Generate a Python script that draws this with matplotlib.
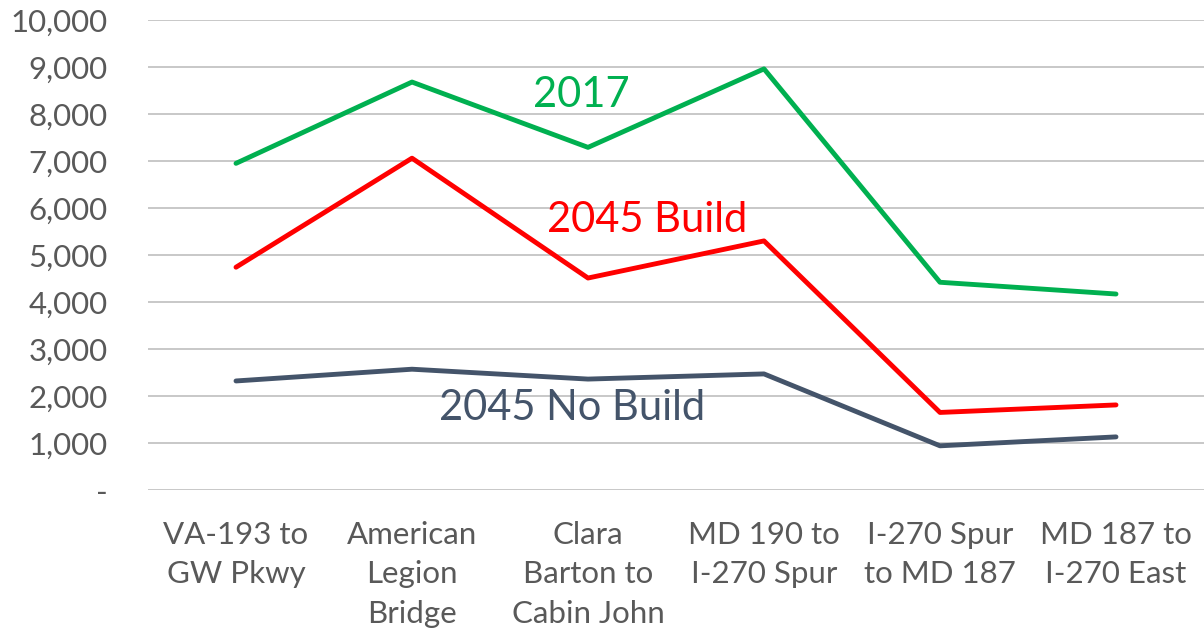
import matplotlib
matplotlib.use("Agg")
import matplotlib.pyplot as plt
from matplotlib.ticker import FuncFormatter

plt.rcParams['font.family'] = ['Lato', 'DejaVu Sans']

categories = ["VA-193 to\nGW Pkwy", "American\nLegion\nBridge", "Clara\nBarton to\nCabin John",
              "MD 190 to\nI-270 Spur", "I-270 Spur\nto MD 187", "MD 187 to\nI-270 East"]
v2017 = [6950, 8680, 7290, 8960, 4420, 4170]
v2045_build = [4740, 7060, 4510, 5300, 1650, 1810]
v2045_nobuild = [2320, 2570, 2360, 2470, 940, 1130]

W, H = 1204, 631
fig = plt.figure(figsize=(W/100, H/100), dpi=100)
ax = fig.add_axes([148/W, 1-490/H, (1204-148)/W, 470/H])

x = list(range(len(categories)))
ax.plot(x, v2017, color="#00B050", lw=3.5, solid_capstyle='round')
ax.plot(x, v2045_build, color="#FF0000", lw=3.5, solid_capstyle='round')
ax.plot(x, v2045_nobuild, color="#44546A", lw=3.5, solid_capstyle='round')

ax.set_xlim(-0.5, 5.5)
ax.set_ylim(0, 10000)
ax.set_yticks(range(0, 10001, 1000))
ax.yaxis.set_major_formatter(FuncFormatter(lambda v, p: "-" if v == 0 else f"{int(v):,}"))
ax.set_xticks(x)
ax.set_xticklabels(categories, linespacing=1.5, va='top')
ax.grid(axis='y', color="#BFBFBF", lw=1.2)
ax.set_axisbelow(True)
for s in ax.spines.values():
    s.set_visible(False)
ax.tick_params(axis='both', length=0, labelsize=22.5, colors="#595959")
ax.tick_params(axis='y', pad=29)
ax.tick_params(axis='x', pad=22)

def dx(px):
    return -0.5 + (px - 148) / 176.0
def dy(py):
    return (490 - py) / 47.0 * 1000

ax.text(dx(581), dy(95), "2017", color="#00B050", fontsize=30, ha='center', va='center')
ax.text(dx(647), dy(220), "2045 Build", color="#FF0000", fontsize=30, ha='center', va='center')
ax.text(dx(572), dy(408), "2045 No Build", color="#44546A", fontsize=30, ha='center', va='center')

fig.savefig("out.png", dpi=100)
